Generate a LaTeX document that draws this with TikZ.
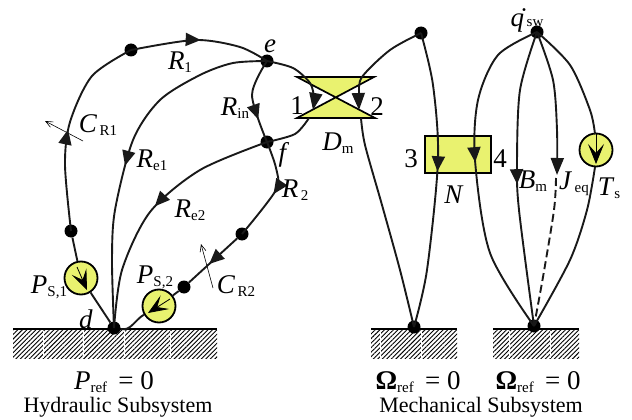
\documentclass[tikz,border=0pt]{standalone}
\usepackage{fontspec}
\setmainfont{Liberation Serif}
\usepackage{tikz}
\usetikzlibrary{arrows.meta, decorations.markings, patterns.meta}
\definecolor{elemfill}{HTML}{E9F26F}
\newcommand{\sym}[2]{{\fontsize{27}{27}\selectfont\textit{#1}}{\fontsize{15}{15}\selectfont\raisebox{-3pt}{#2}}}
\begin{document}
\begin{tikzpicture}[x=1pt, y=-1pt,
  dot/.style={circle, fill=black, inner sep=0pt, minimum size=13pt},
  source/.style={circle, draw, fill=elemfill, line width=1.8pt, inner sep=0pt, minimum size=33pt},
  branch/.style={line width=1.9pt, black!90},
  thinarr/.style={-{Straight Barb[length=7pt,width=6pt]}, line width=0.6pt},
  headat/.style={decoration={markings, mark=at position #1 with {\arrow{Triangle[length=15pt,width=13pt]}}}, postaction={decorate}},
  headend/.style={-{Triangle[length=17pt,width=13pt]}},
  srcarr/.style={-{Stealth[length=20pt,width=16pt,inset=9pt]}, line width=0.8pt},
  lab/.style={inner sep=0pt, font=\fontsize{27}{27}\selectfont},
  caption/.style={inner sep=0pt, font=\fontsize{22}{22}\selectfont}
]
\useasboundingbox (0,0) rectangle (632,420);
\foreach \x/\w/\nm in {13/204/gh,371/86/gm,493/86/gs} {
  \path[pattern={Lines[angle=45,distance=3.2pt,line width=0.9pt]}] (\x,330) rectangle ++(\w,28);
  \coordinate (\nm l) at (\x,329);
  \coordinate (\nm r) at (\x+\w,329);
  \draw[line width=1.8pt] (\nm l) -- (\nm r);
}
\foreach \x in {43,83,124,170,380,421,509,550}
  \draw[white, line width=0.7pt] (\x,331) -- (\x,358);
\foreach \nm/\xx/\yy in {dtop/131/50,e/267/61,f/267/142,dleft/71/231,d/114/328,dsrc/184/287,dcr/242/234,mtop/421/33,mbot/414/327,qtop/537/32,qbot/534/326}
  \node[dot] (\nm) at (\xx,\yy) {};
\node[source] (ps1) at (81,278) {};
\node[source] (ps2) at (159,306) {};
\node[source] (ts) at (596,150) {};
\draw[line width=1.7pt, fill=elemfill, miter limit=5] (297,77) -- (374,77) -- (297,118) -- (375,118) -- cycle;
\draw[line width=1.9pt, fill=elemfill] (425,136) rectangle (491,173);
\coordinate (cr1a) at (83,141);
\coordinate (cr1b) at (45,121);
\coordinate (cr2a) at (213,288);
\coordinate (cr2b) at (201,244);
\draw[thinarr] (cr1a) -- (cr1b);
\draw[thinarr] (cr2a) -- (cr2b);
\draw[branch] (d) -- (ps1);
\draw[branch] (ps1) -- (dleft);
\draw[branch] (ps2) -- (dsrc);
\draw[branch] (d) to[out=-10,in=210] (ps2);
\draw[branch, headat=0.49] plot[smooth] coordinates {(dleft) (65,165) (70,122) (92,76) (dtop)};
\draw[branch, headat=0.5] plot[smooth] coordinates {(dtop) (195,40) (240,47) (e)};
\draw[branch, headat=0.54] plot[smooth] coordinates {(e) (233,63) (200,75) (160,100) (133,140) (115,210) (112,260) (d)};
\draw[branch, headat=0.72] plot[smooth] coordinates {(e) (252,95) (f)};
\draw[branch, headend] plot[smooth] coordinates {(e) (293,68) (310,83) (314,98) (313,110)};
\draw[branch] plot[smooth] coordinates {(309,118) (295,134) (f)};
\draw[branch, headat=0.5] plot[smooth] coordinates {(f) (200,170) (150,212) (122,270) (d)};
\draw[branch, headat=0.52] plot[smooth] coordinates {(f) (276,168) (276,190) (dcr)};
\draw[branch, headat=0.58] (dcr) -- (dsrc);
\draw[branch, headend] plot[smooth] coordinates {(mtop) (390,50) (362,77) (359,95) (359,110)};
\draw[branch] plot[smooth] coordinates {(361,118) (365,145) (382,205) (400,270) (mbot)};
\draw[branch, headat=0.47] plot[smooth] coordinates {(mtop) (433,85) (438,160) (427,270) (mbot)};
\draw[branch, headat=0.47] plot[smooth] coordinates {(qtop) (498,55) (478,100) (475,160) (490,253) (qbot)};
\draw[branch, headat=0.52] plot[smooth] coordinates {(qtop) (520,90) (517,163) (519,210) (qbot)};
\draw[branch, headend] plot[smooth] coordinates {(qtop) (553,80) (557,130) (557,175)};
\draw[branch, dash pattern=on 8pt off 4pt] plot[smooth] coordinates {(556,178) (554,210) (543,277) (qbot)};
\draw[branch] plot[smooth] coordinates {(qtop) (570,65) (590,110) (595,134)};
\draw[branch] plot[smooth] coordinates {(595,167) (587,210) (570,260) (qbot)};
\draw[srcarr] (ts.north) -- (596,164);
\draw[srcarr] (77,267) -- (87,290);
\draw[srcarr] (170,299) -- (148,313);
\node[lab] (r1) at (180,62) {\sym{R}{1}};
\node[lab] (lbe) at (270,46) {\textit{e}};
\node[lab] (lbf) at (284,155) {\textit{f}};
\node[lab] (lbd) at (86,319) {\textit{d}};
\node[lab] (rin) at (235,108) {\sym{R}{in}};
\node[lab] (re1) at (152,160) {\sym{R}{e1}};
\node[lab] (re2) at (190,210) {\sym{R}{e2}};
\node[lab] (r2) at (295,190) {\sym{R}{\,2}};
\node[lab] (cr1) at (98,125) {\sym{C}{\,R1}};
\node[lab] (cr2) at (236,286) {\sym{C}{\,R2}};
\node[lab] (psa) at (49,287) {\sym{P}{S,1}};
\node[lab] (psb) at (155,277) {\sym{P}{S,2}};
\node[lab] (dm) at (338,143) {\sym{D}{m}};
\node[lab] (nn) at (454,195) {\textit{N}};
\node[lab] (bm) at (533,181) {\sym{B}{m}};
\node[lab] (jeq) at (574,184) {\sym{J}{\,eq}};
\node[lab] (tts) at (609,188) {\sym{T}{s}};
\node[lab] (qsw) at (527,20) {\.{\textit{q}}{\fontsize{15}{15}\selectfont\,sw}};
\node[lab] (p1) at (297,106) {1};
\node[lab] (p2) at (377,107) {2};
\node[lab] (p3) at (411,159) {3};
\node[lab] (p4) at (500,159) {4};
\node[lab] (pref) at (114,382) {\sym{P}{ref}\, = 0};
\node[lab] (oma) at (418,382) {\textbf{Ω}{\fontsize{15}{15}\selectfont\raisebox{-3pt}{ref}}\, = 0};
\node[lab] (omb) at (538,382) {\textbf{Ω}{\fontsize{15}{15}\selectfont\raisebox{-3pt}{ref}}\, = 0};
\node[caption] (hyd) at (118,407) {Hydraulic Subsystem};
\node[caption] (mech) at (481,407) {Mechanical Subsystem};
\end{tikzpicture}
\end{document}
